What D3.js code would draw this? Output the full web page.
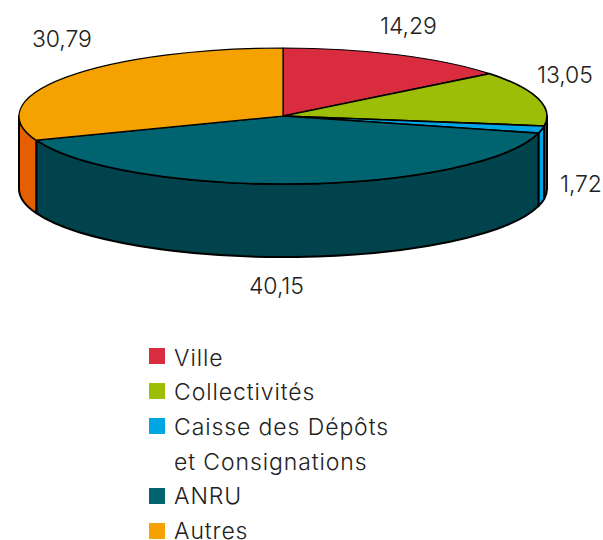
<!DOCTYPE html>
<html lang="fr">
<head>
<meta charset="UTF-8">
<title>Répartition</title>
<script src="https://d3js.org/d3.v7.min.js"></script>
<style>
  html, body { margin: 0; padding: 0; background: #fff; }
  svg { display: block; }
  text { font-family: Inter, "Open Sans", sans-serif; font-weight: 300; fill: #222; }
  text.value { letter-spacing: -0.1px; }
  text.legend { letter-spacing: 0.9px; }
  path { vector-effect: non-scaling-stroke; stroke-linejoin: round; }
</style>
</head>
<body>
<script>
// data
var categories = ["Ville", "Collectivités", "Caisse des Dépôts|et Consignations", "ANRU", "Autres"];
var values = [14.29, 13.05, 1.72, 40.15, 30.79];
var valueLabels = ["14,29", "13,05", "1,72", "40,15", "30,79"];
var topColors = ["#d92d3f", "#9dbe06", "#00a5e3", "#006470", "#f5a200"];
var sideColors = ["#a81f2e", "#5f7504", "#00a5e3", "#00434c", "#e35f00"];

var w = 603, h = 540;
var cx = 283, cy = 116; // centre of the top ellipse
var rx = 264, ry = 68;
var depth = 73;
var flat = ry / rx;

// where the value labels start (left x, baseline y), same order as values
var labelX = [380, 537, 560, 249, 32];
var labelY = [34, 83, 192, 294, 47];

var svg = d3.select("body").append("svg")
    .attr("width", w)
    .attr("height", h);

var pie = d3.pie().sort(null).value(function (d) { return d; });
var slices = pie(values);

// everything round the centre is drawn as a circle and squashed
var g = svg.append("g")
    .attr("transform", "translate(" + cx + "," + cy + ") scale(1," + flat + ")");

var arc = d3.arc().innerRadius(0).outerRadius(rx);

// side wall of a slice, only the part that faces the viewer (90deg to 270deg)
function sidePath(d) {
    var a0 = Math.max(d.startAngle, Math.PI / 2) - Math.PI / 2;
    var a1 = Math.min(d.endAngle, Math.PI * 1.5) - Math.PI / 2;
    if (a1 <= a0) return null;
    var dz = depth / flat;
    var p = d3.path();
    p.arc(0, 0, rx, a0, a1);
    p.lineTo(rx * Math.cos(a1), rx * Math.sin(a1) + dz);
    p.arc(0, dz, rx, a1, a0, true);
    p.closePath();
    return p.toString();
}

g.selectAll("path.side")
    .data(slices)
    .enter()
    .append("path")
    .attr("class", "side")
    .attr("d", sidePath)
    .attr("fill", function (d, i) { return sideColors[i]; })
    .attr("stroke", "#000")
    .attr("stroke-width", 2);

g.selectAll("path.top")
    .data(slices)
    .enter()
    .append("path")
    .attr("class", "top")
    .attr("d", arc)
    .attr("fill", function (d, i) { return topColors[i]; })
    .attr("stroke", "#000")
    .attr("stroke-width", function (d, i) { return i === 0 || i === 4 ? 1.2 : 1.6; });

// value labels
svg.selectAll("text.value")
    .data(valueLabels)
    .enter()
    .append("text")
    .attr("class", "value")
    .attr("x", function (d, i) { return labelX[i]; })
    .attr("y", function (d, i) { return labelY[i]; })
    .attr("font-size", 23)
    .text(function (d) { return d; });

// legend
var legendX = 149, legendTop = 348, rowH = 35, box = 16;
var row = 0;
categories.forEach(function (name, i) {
    var lines = name.split("|");
    svg.append("rect")
        .attr("x", legendX)
        .attr("y", legendTop + row * rowH)
        .attr("width", box)
        .attr("height", box)
        .attr("fill", topColors[i]);
    lines.forEach(function (line) {
        svg.append("text")
            .attr("class", "legend")
            .attr("x", legendX + 25)
            .attr("y", legendTop + 17.5 + row * 34.7)
            .attr("font-size", 23)
            .text(line);
        row++;
    });
});
</script>
</body>
</html>
